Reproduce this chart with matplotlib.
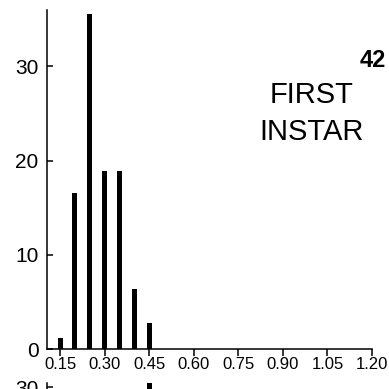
import matplotlib.pyplot as plt

plt.rcParams['font.family'] = ['Liberation Sans', 'DejaVu Sans']

# head capsule widths (mm) and counts, first instar
widths = [0.15, 0.20, 0.25, 0.30, 0.35, 0.40, 0.45]
counts = [1.2, 16.6, 35.6, 18.9, 18.9, 6.4, 2.8]

xticks = [0.15, 0.30, 0.45, 0.60, 0.75, 0.90, 1.05, 1.20]
xlabels = ['0.15', '0.30', '0.45', '0.60', '0.75', '0.90', '1.05', '1.20']
yticks = [0, 10, 20, 30]

# next panel, only its top edge shows
next_widths = [0.45]
next_counts = [32]

fig = plt.figure(figsize=(3.89, 3.89), dpi=100)

ax = fig.add_axes([0.1208, 0.1028, 0.8355, 0.8715])
ax.bar(widths, counts, width=0.017, color='black')
ax.set_xlim(0.106, 1.20)
ax.set_ylim(0, 36)
ax.set_xticks(xticks)
ax.set_xticklabels(xlabels)
ax.set_yticks(yticks)
for s in ['top', 'right']:
    ax.spines[s].set_visible(False)
for s in ['left', 'bottom']:
    ax.spines[s].set_linewidth(1.1)
ax.tick_params(axis='y', direction='in', length=4, width=1.1, labelsize=15, pad=6)
ax.tick_params(axis='x', direction='out', length=5, width=1.1, labelsize=12, pad=1)

fig.text(0.993, 0.845, '42', ha='right', va='center', fontsize=17, fontweight='bold')
fig.text(0.802, 0.756, 'FIRST', ha='center', va='center', fontsize=21)
fig.text(0.800, 0.660, 'INSTAR', ha='center', va='center', fontsize=21)

ax2 = fig.add_axes([0.1208, -0.717, 0.8355, 0.733])
ax2.bar(next_widths, next_counts, width=0.017, color='black')
ax2.set_xlim(0.106, 1.20)
ax2.set_ylim(0, 30.5)
ax2.set_yticks([30])
ax2.set_xticks([])
for s in ['top', 'right', 'bottom']:
    ax2.spines[s].set_visible(False)
ax2.spines['left'].set_linewidth(1.1)
ax2.tick_params(axis='y', direction='in', length=4, width=1.1, labelsize=15, pad=6)

fig.savefig('out.png', dpi=100)
